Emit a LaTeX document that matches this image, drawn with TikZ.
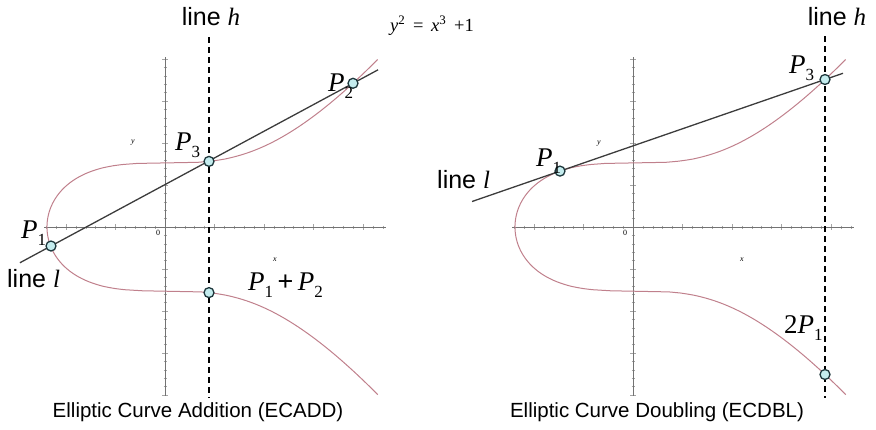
\documentclass[tikz,border=0pt]{standalone}
\usepackage{fontspec}
\setmainfont{Liberation Sans}
\newfontfamily\tnr{Liberation Serif}
\usetikzlibrary{calc}
\definecolor{curvec}{RGB}{192,128,140}
\definecolor{linec}{RGB}{60,60,60}
\definecolor{axisc}{RGB}{115,115,115}
\definecolor{tickc}{RGB}{165,165,165}
\definecolor{ptfill}{RGB}{196,236,238}
\definecolor{ptdraw}{RGB}{30,55,60}
\newcommand{\Pl}[1]{{\tnr\itshape P}\raisebox{-0.28em}{\tnr\fontsize{17}{17}\selectfont #1}}
\newcommand{\tim}[1]{{\tnr\itshape #1}}
\begin{document}
\begin{tikzpicture}[x=1pt,y=-1pt,
  axisline/.style={draw=axisc, line width=0.8pt},
  tickline/.style={draw=tickc, line width=0.5pt},
  curveline/.style={draw=curvec, line width=1pt},
  lline/.style={draw=linec, line width=1.3pt},
  hline/.style={draw=black, line width=2.2pt, dash pattern=on 6pt off 4pt},
  ptc/.style={circle, draw=ptdraw, fill=ptfill, line width=1.3pt, minimum size=10pt, inner sep=0pt},
  biglbl/.style={font=\fontsize{25}{28}\selectfont, inner sep=0pt, anchor=base},
  plab/.style={font=\fontsize{27}{30}\selectfont, inner sep=0pt, anchor=base west},
  caplbl/.style={font=\fontsize{20.5}{24}\selectfont, inner sep=0pt, anchor=base},
  tinylbl/.style={font=\tnr\itshape\fontsize{8}{9}\selectfont, inner sep=0pt},
  eqlbl/.style={font=\tnr\fontsize{18.5}{21}\selectfont, inner sep=0pt, anchor=base west}]
\useasboundingbox (0,0) rectangle (876,429);

% ---------- axes (both panels) ----------
\foreach \ox in {165,633}{
  \foreach \k in {-12,...,22} \draw[tickline] ({\ox+9.9*\k},225.5) -- ({\ox+9.9*\k},228.5);
  \foreach \k in {-2,...,4} \draw[tickline] ({\ox+49.5*\k},224) -- ({\ox+49.5*\k},230);
  \foreach \k in {-20,...,20} \draw[tickline] ({\ox-1.5},{227+8.4*\k}) -- ({\ox+1.5},{227+8.4*\k});
  \foreach \k in {-4,...,4} \draw[tickline] ({\ox-3},{227+42*\k}) -- ({\ox+3},{227+42*\k});
  \draw[axisline] ({\ox-121},227) -- ({\ox+221},227);
  \draw[axisline] (\ox,57) -- (\ox,396);
  \draw[curveline] plot[domain=-2.62:2.62, samples=301]
    ({\ox+118*sign(\x*\x-1)*pow(abs(\x*\x-1),1/3)}, {227-64*\x});
}
\node[tinylbl] (yL) at (133,143) {y};
\node[tinylbl] (xL) at (275,260) {x};
\node[tinylbl, font=\tnr\fontsize{8}{9}\selectfont] (oL) at (158,233) {0};
\node[tinylbl] (yR) at (599,144) {y};
\node[tinylbl] (xR) at (742,260) {x};
\node[tinylbl, font=\tnr\fontsize{8}{9}\selectfont] (oR) at (625,233) {0};

% ---------- left panel: addition ----------
\coordinate (p1L) at (51,246);
\coordinate (p2L) at (353,83.3);
\coordinate (p3L) at (209,161.4);
\coordinate (p12L) at (209,292.6);
\coordinate (hTopL) at (209,37);
\coordinate (hBotL) at (209,398);
\draw[lline] ($(p1L)!-0.103!(p2L)$) -- ($(p2L)!-0.083!(p1L)$);
\draw[hline] (hTopL) -- (hBotL);
\node[ptc] (P1L) at (p1L) {};
\node[ptc] (P2L) at (p2L) {};
\node[ptc] (P3L) at (p3L) {};
\node[ptc] (P12L) at (p12L) {};

\node[biglbl] (lhL) at (211,25) {line \tim{h}};
\node[biglbl, anchor=base west] (llL) at (7,287) {line \tim{l}};
\node[plab] (t1L) at (21,238) {\Pl{1}};
\node[plab] (t2L) at (328,91) {\Pl{2}};
\node[plab] (t3L) at (175,150) {\Pl{3}};
\node[plab] (t12L) at (248,290) {\Pl{1}\,+\,\Pl{2}};
\node[eqlbl] (eq) at (390,31) {\tim{y}\textsuperscript{2}\, =\, \tim{x}\textsuperscript{3}\, +1};
\node[caplbl] (capL) at (198,417) {Elliptic Curve Addition (ECADD)};

% ---------- right panel: doubling ----------
\coordinate (p1R) at (560,171.1);
\coordinate (p3R) at (825,79.5);
\coordinate (p2R) at (825,374.5);
\coordinate (hTopR) at (825,36);
\coordinate (hBotR) at (825,398);
\draw[lline] ($(p1R)!-0.332!(p3R)$) -- ($(p3R)!-0.068!(p1R)$);
\draw[hline] (hTopR) -- (hBotR);
\node[ptc] (P1R) at (p1R) {};
\node[ptc] (P3R) at (p3R) {};
\node[ptc] (P2R) at (p2R) {};

\node[biglbl] (lhR) at (837,25) {line \tim{h}};
\node[biglbl, anchor=base west] (llR) at (437,188) {line \tim{l}};
\node[plab] (t1R) at (536,166) {\Pl{1}};
\node[plab] (t3R) at (789,73) {\Pl{3}};
\node[plab] (t2R) at (784,333) {{\tnr 2}\Pl{1}};
\node[caplbl] (capR) at (657,417) {Elliptic Curve Doubling (ECDBL)};
\end{tikzpicture}
\end{document}
